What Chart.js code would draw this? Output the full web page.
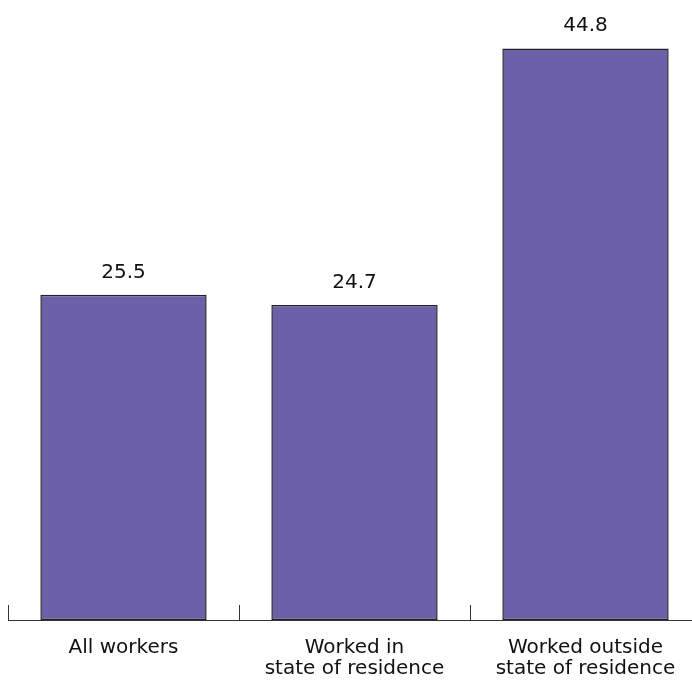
<!DOCTYPE html>
<html>
<head>
<meta charset="utf-8">
<script src="https://cdn.jsdelivr.net/npm/chart.js@4/dist/chart.umd.min.js"></script>
<style>
  html, body { margin: 0; padding: 0; background: #fff; overflow: hidden; }
  canvas { display: block; }
</style>
</head>
<body>
<canvas id="bars" width="710" height="681"></canvas>
<script>
'use strict';

// Chart values.
const categories = [
  ['All workers'],
  ['Worked in', 'state of residence'],
  ['Worked outside', 'state of residence']
];
const values = [25.5, 24.7, 44.8];
const yMin = 0;
const yMax = 48.6;

const barColor = '#6c61a8';
const fontFamily = '"DejaVu Sans", sans-serif';

// Plugin that writes the value above every bar.
const valueLabels = {
  id: 'valueLabels',
  afterDatasetsDraw(chart) {
    const ctx = chart.ctx;
    const meta = chart.getDatasetMeta(0);
    ctx.save();
    ctx.font = '20px ' + fontFamily;
    ctx.fillStyle = '#111';
    ctx.textAlign = 'center';
    ctx.textBaseline = 'alphabetic';
    meta.data.forEach(function (bar, i) {
      ctx.fillText(values[i].toFixed(1), bar.x, bar.y - 17);
    });
    ctx.restore();
  }
};

// Plugin for the short upward ticks between categories.
const upTicks = {
  id: 'upTicks',
  afterDraw(chart) {
    const scale = chart.scales.x;
    const ctx = chart.ctx;
    const step = scale.width / categories.length;
    ctx.save();
    ctx.strokeStyle = '#333';
    ctx.lineWidth = 1;
    for (let i = 0; i <= categories.length; i++) {
      const x = Math.round(scale.left + i * step) + 0.5;
      ctx.beginPath();
      ctx.moveTo(x, scale.top);
      ctx.lineTo(x, scale.top - 15);
      ctx.stroke();
    }
    ctx.restore();
  }
};

const chart = new Chart(document.getElementById('bars'), {
  type: 'bar',
  data: {
    labels: categories,
    datasets: [{
      data: values,
      backgroundColor: barColor,
      borderColor: '#222',
      borderWidth: 1.5,
      borderSkipped: false,
      barPercentage: 0.72,
      categoryPercentage: 1
    }]
  },
  options: {
    responsive: false,
    animation: false,
    layout: { padding: { left: 8, right: 9, top: 0, bottom: 0 } },
    plugins: {
      legend: { display: false },
      tooltip: { enabled: false }
    },
    scales: {
      x: {
        grid: { display: false, drawTicks: false },
        border: { display: true, color: '#333', width: 1 },
        afterFit(scale) {
          scale.height = 61;
        },
        ticks: {
          color: '#111',
          padding: 17,
          maxRotation: 0,
          autoSkip: false,
          font: { family: fontFamily, size: 20, lineHeight: 1.05 }
        }
      },
      y: {
        display: false,
        min: yMin,
        max: yMax
      }
    }
  },
  plugins: [valueLabels, upTicks]
});
</script>
</body>
</html>
